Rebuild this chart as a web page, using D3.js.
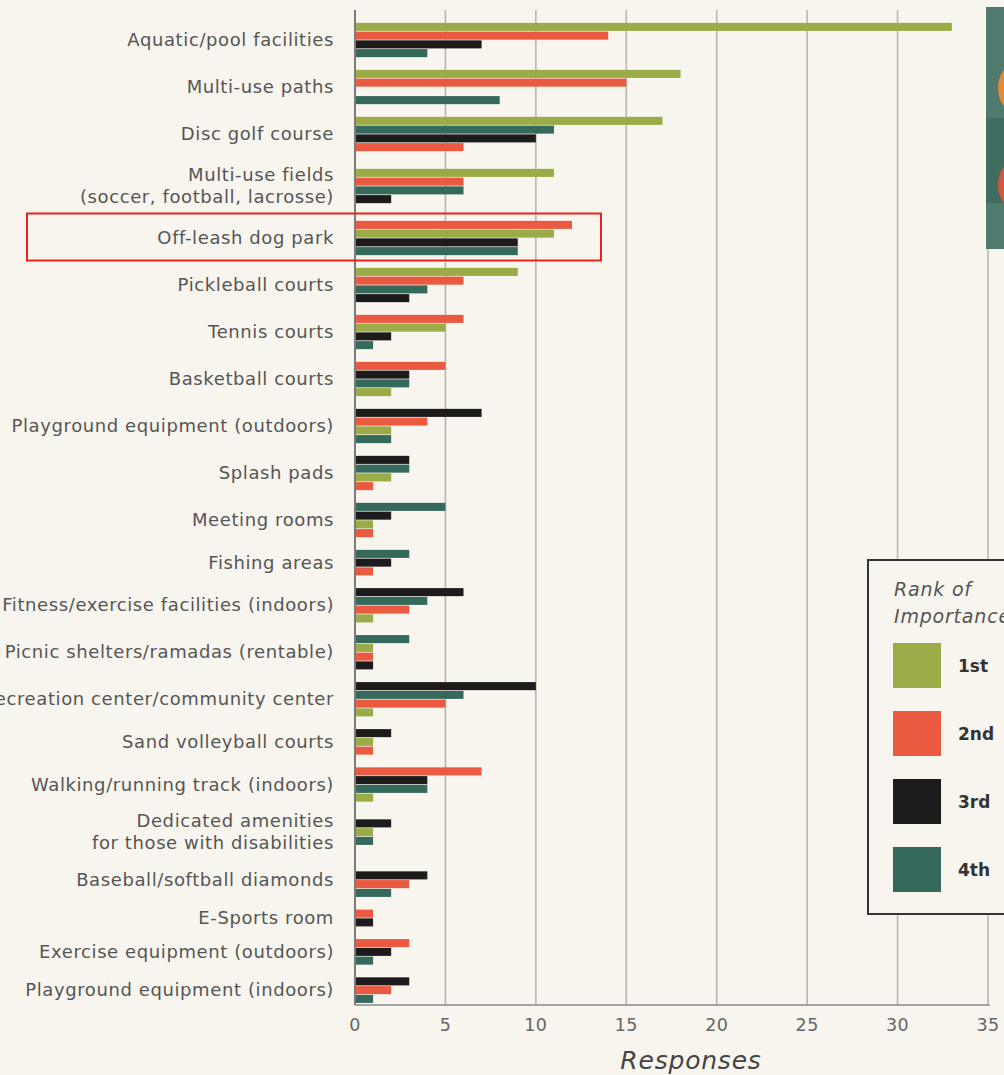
<!DOCTYPE html>
<html><head><meta charset="utf-8">
<script src="https://cdn.jsdelivr.net/npm/d3@7"></script>
<style>
html,body{margin:0;padding:0;background:#f8f5ee;}
svg{display:block;}
</style></head>
<body>
<svg id="chart" width="1004" height="1075"></svg>
<script>
// ---- data ----
const categories = [
  "Aquatic/pool facilities", "Multi-use paths", "Disc golf course",
  "Multi-use fields|(soccer, football, lacrosse)", "Off-leash dog park",
  "Pickleball courts", "Tennis courts", "Basketball courts",
  "Playground equipment (outdoors)", "Splash pads", "Meeting rooms",
  "Fishing areas", "Fitness/exercise facilities (indoors)",
  "Picnic shelters/ramadas (rentable)", "Recreation center/community center",
  "Sand volleyball courts", "Walking/running track (indoors)",
  "Dedicated amenities|for those with disabilities", "Baseball/softball diamonds",
  "E-Sports room", "Exercise equipment (outdoors)", "Playground equipment (indoors)"
];
const rank1st = [33, 18, 17, 11, 11, 9, 5, 2, 2, 2, 1, 0, 1, 1, 1, 1, 1, 1, 0, 0, 0, 0];
const rank2nd = [14, 15, 6, 6, 12, 6, 6, 5, 4, 1, 1, 1, 3, 1, 5, 1, 7, 0, 3, 1, 3, 2];
const rank3rd = [7, 0, 10, 2, 9, 3, 2, 3, 7, 3, 2, 2, 6, 1, 10, 2, 4, 2, 4, 1, 2, 3];
const rank4th = [4, 8, 11, 6, 9, 4, 1, 3, 2, 3, 5, 3, 4, 3, 6, 0, 4, 1, 2, 0, 1, 1];
// order in which the rank bars appear (top to bottom) inside each category
const barOrder = [
  [1,2,3,4],[1,2,3,4],[1,4,3,2],[1,2,4,3],[2,1,3,4],[1,2,4,3],[2,1,3,4],[2,3,4,1],
  [3,2,1,4],[3,4,1,2],[4,3,1,2],[4,3,2],[3,4,2,1],[4,1,2,3],[3,4,2,1],[3,1,2],
  [2,3,4,1],[3,1,4],[1,3,2,4],[2,3],[2,3,4],[3,2,4]
];
const rankNames = ["1st", "2nd", "3rd", "4th"];
const xTicks = [0, 5, 10, 15, 20, 25, 30, 35];
const highlighted = "Off-leash dog park";

// ---- styles ----
const colors = ["#9aab47", "#ea5a40", "#1d1b1b", "#35695c"];
const font = "'DejaVu Sans', sans-serif";
const labelColor = "#555";

const svg = d3.select("#chart");
const W = 1004, H = 1075;
svg.append("rect").attr("width", W).attr("height", H).attr("fill", "#f8f5ee");

const x0 = 355, xEnd = 988, plotTop = 10, plotBottom = 1005;
const x = d3.scaleLinear().domain([0, 35]).range([x0, xEnd]);

// vertical layout: each category block is as tall as its bar slots
const slotH = 8.75, gap = 12, twoLineExtra = 5, yStart = 22.5;
const values = [rank1st, rank2nd, rank3rd, rank4th];
const blocks = [];
let cursor = yStart;
categories.forEach((c, i) => {
  const two = c.includes("|");
  if (i > 0) cursor += gap + (two ? twoLineExtra : 0) + (categories[i-1].includes("|") ? twoLineExtra : 0);
  const slots = barOrder[i];
  const band = d3.scaleBand().domain(slots).range([cursor, cursor + slots.length * slotH]).paddingInner(0.08).paddingOuter(0.04);
  blocks.push({c, i, band, top: cursor, bottom: cursor + slots.length * slotH});
  cursor += slots.length * slotH;
});

// gridlines
svg.append("g").selectAll("line").data(xTicks.filter(d => d > 0)).join("line")
  .attr("x1", d => x(d)).attr("x2", d => x(d))
  .attr("y1", plotTop).attr("y2", plotBottom)
  .attr("stroke", "#b9b6b0").attr("stroke-width", 1.6);

// bars
const gBars = svg.append("g");
blocks.forEach(b => {
  barOrder[b.i].forEach(r => {
    const v = values[r-1][b.i];
    if (!v) return;
    gBars.append("rect")
      .attr("x", x(0)).attr("y", b.band(r))
      .attr("width", x(v) - x(0)).attr("height", b.band.bandwidth())
      .attr("fill", colors[r-1]);
  });
});

// axes lines
svg.append("line").attr("x1", x0).attr("x2", x0).attr("y1", plotTop).attr("y2", plotBottom)
  .attr("stroke", "#7a7a78").attr("stroke-width", 2);
svg.append("line").attr("x1", x0).attr("x2", xEnd + 2).attr("y1", plotBottom).attr("y2", plotBottom)
  .attr("stroke", "#8a8a88").attr("stroke-width", 1.6);

// x tick labels
svg.append("g").selectAll("text").data(xTicks).join("text")
  .attr("x", d => x(d)).attr("y", 1031)
  .attr("text-anchor", "middle").attr("font-family", font).attr("font-size", 17.5)
  .attr("letter-spacing", 0.4)
  .attr("fill", "#666").text(d => d);

svg.append("text").attr("x", 691).attr("y", 1069).attr("text-anchor", "middle")
  .attr("font-family", font).attr("font-style", "italic").attr("font-size", 25)
  .attr("letter-spacing", 0.8)
  .attr("fill", "#444").text("Responses");

// category labels
blocks.forEach(b => {
  const lines = b.c.split("|");
  const mid = (b.top + b.bottom) / 2;
  const lh = 22;
  lines.forEach((t, k) => {
    svg.append("text")
      .attr("x", 334).attr("y", mid + (k - (lines.length - 1) / 2) * lh + 6)
      .attr("text-anchor", "end").attr("font-family", font).attr("font-size", 18)
      .attr("letter-spacing", 0.6)
      .attr("fill", labelColor).text(t);
  });
});

// highlight box
const hb = blocks.find(b => b.c === highlighted);
svg.append("rect").attr("x", 27).attr("y", hb.top - 7).attr("width", 574).attr("height", hb.bottom - hb.top + 12)
  .attr("fill", "none").attr("stroke", "#e8231f").attr("stroke-width", 2);

// legend
const lg = svg.append("g");
lg.append("rect").attr("x", 868).attr("y", 560).attr("width", 150).attr("height", 354)
  .attr("fill", "#f8f5ee").attr("stroke", "#333").attr("stroke-width", 2);
["Rank of", "Importance"].forEach((t, k) => {
  lg.append("text").attr("x", 894).attr("y", 596 + k * 27).attr("font-family", font)
    .attr("font-style", "italic").attr("font-size", 19).attr("letter-spacing", 0.8)
    .attr("fill", "#555").text(t);
});
const ly = d3.scalePoint().domain(rankNames).range([643, 847]);
rankNames.forEach((n, k) => {
  lg.append("rect").attr("x", 893).attr("y", ly(n)).attr("width", 48).attr("height", 45)
    .attr("fill", colors[k]);
  lg.append("text").attr("x", 958).attr("y", ly(n) + 29).attr("font-family", font)
    .attr("font-weight", "bold").attr("font-size", 17).attr("fill", "#333").text(n);
});

// cropped panel top right
const p = svg.append("g");
p.append("clipPath").attr("id", "pc").append("rect").attr("x", 986).attr("y", 7).attr("width", 20).attr("height", 242);
const pg = p.append("g").attr("clip-path", "url(#pc)");
pg.append("rect").attr("x", 986).attr("y", 7).attr("width", 20).attr("height", 242).attr("fill", "#4f7a6d");
pg.append("rect").attr("x", 986).attr("y", 118).attr("width", 20).attr("height", 85).attr("fill", "#3f6e61");
pg.append("ellipse").attr("cx", 1012).attr("cy", 88).attr("rx", 14).attr("ry", 22).attr("fill", "#e3893c");
pg.append("ellipse").attr("cx", 1012).attr("cy", 185).attr("rx", 14).attr("ry", 22).attr("fill", "#d4563f");
</script>
</body></html>
